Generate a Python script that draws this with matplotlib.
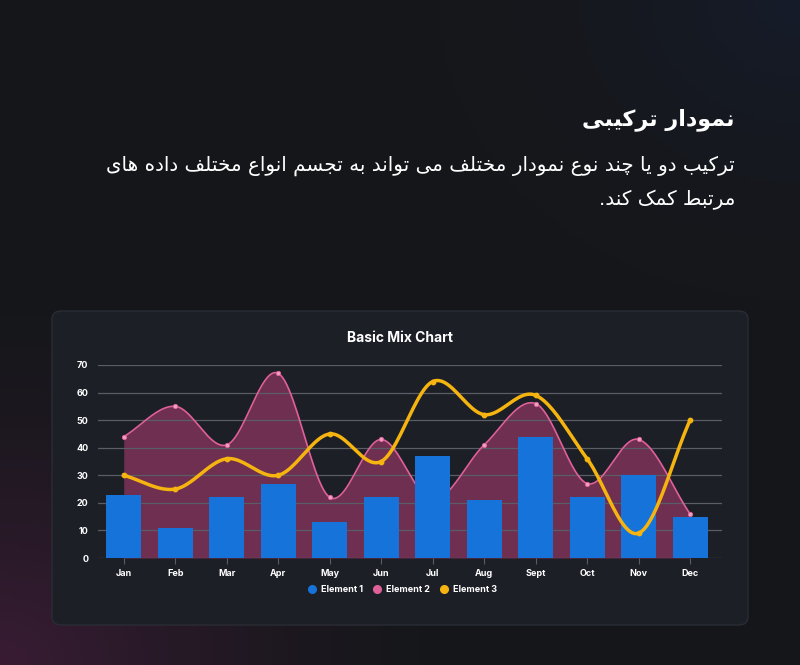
import numpy as np
import matplotlib.pyplot as plt
from matplotlib.patches import FancyBboxPatch
from matplotlib.lines import Line2D

months = ["Jan", "Feb", "Mar", "Apr", "May", "Jun", "Jul", "Aug", "Sept", "Oct", "Nov", "Dec"]
element1 = [23, 11, 22, 27, 13, 22, 37, 21, 44, 22, 30, 15]
element2 = [44, 55, 41, 67, 22, 43, 21, 41, 56, 27, 43, 16]
element3 = [30, 25, 36, 30, 45, 35, 64, 52, 59, 36, 9, 50]
yticks = [0, 10, 20, 30, 40, 50, 60, 70]

heading = "نمودار ترکیبی"
line1 = "ترکیب دو یا چند نوع نمودار مختلف می تواند به تجسم انواع مختلف داده های"
line2 = "مرتبط کمک کند."

# minimal persian shaping: (isolated, final, initial, medial); 2-tuple = joins right only
FORMS = {
    "ا": (0xFE8D, 0xFE8E), "د": (0xFEA9, 0xFEAA), "ر": (0xFEAD, 0xFEAE), "و": (0xFEED, 0xFEEE),
    "ب": (0xFE8F, 0xFE90, 0xFE91, 0xFE92), "ت": (0xFE95, 0xFE96, 0xFE97, 0xFE98),
    "ج": (0xFE9D, 0xFE9E, 0xFE9F, 0xFEA0), "چ": (0xFB7A, 0xFB7B, 0xFB7C, 0xFB7D),
    "خ": (0xFEA5, 0xFEA6, 0xFEA7, 0xFEA8), "س": (0xFEB1, 0xFEB2, 0xFEB3, 0xFEB4),
    "ط": (0xFEC1, 0xFEC2, 0xFEC3, 0xFEC4), "ع": (0xFEC9, 0xFECA, 0xFECB, 0xFECC),
    "ف": (0xFED1, 0xFED2, 0xFED3, 0xFED4), "ک": (0xFB8E, 0xFB8F, 0xFB90, 0xFB91),
    "ل": (0xFEDD, 0xFEDE, 0xFEDF, 0xFEE0), "م": (0xFEE1, 0xFEE2, 0xFEE3, 0xFEE4),
    "ن": (0xFEE5, 0xFEE6, 0xFEE7, 0xFEE8), "ه": (0xFEE9, 0xFEEA, 0xFEEB, 0xFEEC),
    "ی": (0xFBFC, 0xFBFD, 0xFBFE, 0xFBFF),
}


def shape(s):
    out = []
    for i, ch in enumerate(s):
        f = FORMS.get(ch)
        if f is None:
            out.append(ch)
            continue
        prev = s[i - 1] if i > 0 else ""
        nxt = s[i + 1] if i + 1 < len(s) else ""
        jp = prev in FORMS and len(FORMS[prev]) == 4
        jn = len(f) == 4 and nxt in FORMS
        if jp and jn:
            out.append(chr(f[3]))
        elif jp:
            out.append(chr(f[1]))
        elif jn:
            out.append(chr(f[2]))
        else:
            out.append(chr(f[0]))
    return "".join(out)[::-1]


def smooth(y, n=24, k=0.5):
    # cardinal spline through the points (k scales tangents)
    p = np.array(y, float)
    pts = np.concatenate([[2 * p[0] - p[1]], p, [2 * p[-1] - p[-2]]])
    xs, ys = [], []
    for i in range(len(p) - 1):
        t = np.linspace(0, 1, n, endpoint=False)
        p0, p1, p2, p3 = pts[i:i + 4]
        m1 = k * (p2 - p0)
        m2 = k * (p3 - p1)
        h00 = 2 * t ** 3 - 3 * t ** 2 + 1
        h10 = t ** 3 - 2 * t ** 2 + t
        h01 = -2 * t ** 3 + 3 * t ** 2
        h11 = t ** 3 - t ** 2
        ys.append(h00 * p1 + h10 * m1 + h01 * p2 + h11 * m2)
        xs.append(i + t)
    xs.append([len(p) - 1])
    ys.append([p[-1]])
    return np.concatenate(xs), np.concatenate(ys)


fig = plt.figure(figsize=(8, 6.65), dpi=100)
bg = fig.add_axes([0, 0, 1, 1])
bg.set_axis_off()
gx, gy = np.meshgrid(np.linspace(0, 1, 200), np.linspace(0, 1, 200))
base = np.array([0.085, 0.09, 0.105])
img = np.zeros((200, 200, 3)) + base
img += (np.clip(1 - np.hypot(gx - 0.0, gy - 0.0) / 0.55, 0, 1) ** 1.5)[..., None] * np.array([0.14, 0.02, 0.1])
img += (np.clip(1 - np.hypot(gx - 1.0, gy - 1.0) / 0.5, 0, 1) ** 2)[..., None] * np.array([0.0, 0.02, 0.06])
bg.imshow(np.clip(img, 0, 1), extent=[0, 1, 0, 1], origin="lower", aspect="auto")
bg.set_xlim(0, 1)
bg.set_ylim(0, 1)
bg.add_patch(FancyBboxPatch((52 / 800, 1 - 625 / 665), 696 / 800, 314 / 665,
                            boxstyle="round,pad=0,rounding_size=0.012", fc="#1d1f27",
                            ec="#2a2c35", lw=1))

bg.text(735 / 800, 1 - 120 / 665, shape(heading), ha="right", va="center", color="white",
        fontsize=16, fontweight="bold", family="DejaVu Sans")
bg.text(735 / 800, 1 - 166 / 665, shape(line1), ha="right", va="center", color="white",
        fontsize=14.3, family="DejaVu Sans")
bg.text(735 / 800, 1 - 200 / 665, shape(line2), ha="right", va="center", color="white",
        fontsize=14.3, family="DejaVu Sans")
bg.text(400 / 800, 1 - 338 / 665, "Basic Mix Chart", ha="center", va="center", color="white",
        fontsize=10, fontweight="bold", family="Inter")

ax = fig.add_axes([98 / 800, 1 - 558 / 665, 624 / 800, 193 / 665])
ax.set_facecolor("none")
x = np.arange(len(months))
sx, sy = smooth(element2)
ax.fill_between(sx, 0, sy, color="#c0407a", alpha=0.5, lw=0, zorder=1)
ax.plot(sx, sy, color="#e0609a", lw=1.2, zorder=2)
ax.scatter(x, element2, s=10, facecolor="#f0a0c0", edgecolor="#e0609a", lw=0.6, zorder=2.5)
ax.bar(x, element1, width=0.68, color="#1673d9", zorder=3)
sx3, sy3 = smooth(element3)
ax.plot(sx3, sy3, color="#f5b40f", lw=2.5, zorder=5)
ax.scatter(x, element3, s=10, color="#f5b40f", zorder=6)

ax.set_xlim(-0.5, 11.62)
ax.set_ylim(0, 70)
ax.set_yticks(yticks)
ax.set_xticks(x)
ax.set_xticklabels(months)
ax.grid(axis="y", color="#5a5c66", lw=0.9, zorder=0)
for s in ax.spines.values():
    s.set_visible(False)
ax.tick_params(colors="white", length=0, labelsize=6.5, pad=7)
ax.tick_params(axis="x", length=4, color="#5a5c66", pad=4)
for lb in ax.get_xticklabels() + ax.get_yticklabels():
    lb.set_fontweight("bold")
    lb.set_family("Inter")

handles = [Line2D([], [], marker="o", ls="", color=c, markersize=5.5) for c in ["#1673d9", "#e0609a", "#f5b40f"]]
leg = fig.legend(handles, ["Element 1", "Element 2", "Element 3"], loc="center",
                 bbox_to_anchor=(400 / 800, 1 - 590 / 665), ncol=3, frameon=False,
                 handletextpad=0.05, columnspacing=0.5, prop={"size": 6.5, "weight": "bold", "family": "Inter"})
for t in leg.get_texts():
    t.set_color("white")

fig.savefig("out.png", dpi=100)
